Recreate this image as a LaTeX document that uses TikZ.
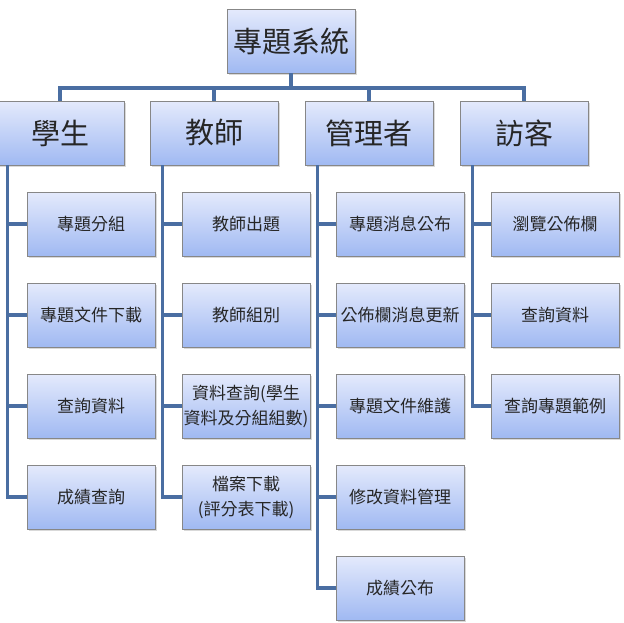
\documentclass[tikz,border=0pt]{standalone}
\usepackage{fontspec}
\newfontfamily\cjk{Noto Sans CJK TC}
\usetikzlibrary{positioning, shadows}

\definecolor{boxtop}{RGB}{228,234,252}
\definecolor{boxbot}{RGB}{160,185,242}
\definecolor{boxline}{RGB}{135,135,135}
\definecolor{branch}{RGB}{74,110,162}

\begin{document}
\begin{tikzpicture}[x=1pt, y=-1pt,
  box/.style={draw=boxline, line width=0.8pt, top color=boxtop, bottom color=boxbot,
    minimum width=128pt, minimum height=64pt, inner sep=0pt, align=center,
    text=black!85, drop shadow={opacity=0.3, shadow xshift=1.5pt, shadow yshift=-1.5pt}},
  big/.style={box, font=\cjk\fontsize{29}{34}\selectfont},
  small/.style={box, font=\cjk\fontsize{17}{25}\selectfont},
  link/.style={draw=branch, line width=3.2pt}]

\useasboundingbox (0,0) rectangle (624,622);

% Root
\node[big] (root) at (291,41) {專題系統};

% Roles
\node[big] (stu) at (60,133) {學生};
\node[big] (tea) at (214,133) {教師};
\node[big] (adm) at (369,133) {管理者};
\node[big] (vis) at (524,133) {訪客};

% Root to roles
\coordinate (bar) at (291,88);
\draw[link] (root.south) -- (bar);
\draw[link] (bar) -| (stu.north);
\draw[link] (bar) -| (tea.north);
\draw[link] (bar) -| (adm.north);
\draw[link] (bar) -| (vis.north);

% Student tasks
\node[small] (s1) at (91,224) {專題分組};
\node[small] (s2) at (91,315) {專題文件下載};
\node[small] (s3) at (91,406) {查詢資料};
\node[small] (s4) at (91,497) {成績查詢};

% Teacher tasks
\node[small] (t1) at (246,224) {教師出題};
\node[small] (t2) at (246,315) {教師組別};
\node[small] (t3) at (246,406) {資料查詢(學生\\資料及分組組數)};
\node[small] (t4) at (246,497) {檔案下載\\(評分表下載)};

% Admin tasks
\node[small] (a1) at (400,224) {專題消息公布};
\node[small] (a2) at (400,315) {公佈欄消息更新};
\node[small] (a3) at (400,406) {專題文件維護};
\node[small] (a4) at (400,497) {修改資料管理};
\node[small] (a5) at (400,588) {成績公布};

% Visitor tasks
\node[small] (v1) at (555,224) {瀏覽公佈欄};
\node[small] (v2) at (555,315) {查詢資料};
\node[small] (v3) at (555,406) {查詢專題範例};

% Branches
\draw[link] ([xshift=12pt]stu.south west) |- (s1.west);
\draw[link] ([xshift=12pt]stu.south west) |- (s2.west);
\draw[link] ([xshift=12pt]stu.south west) |- (s3.west);
\draw[link] ([xshift=12pt]stu.south west) |- (s4.west);

\draw[link] ([xshift=13pt]tea.south west) |- (t1.west);
\draw[link] ([xshift=13pt]tea.south west) |- (t2.west);
\draw[link] ([xshift=13pt]tea.south west) |- (t3.west);
\draw[link] ([xshift=13pt]tea.south west) |- (t4.west);

\draw[link] ([xshift=13pt]adm.south west) |- (a1.west);
\draw[link] ([xshift=13pt]adm.south west) |- (a2.west);
\draw[link] ([xshift=13pt]adm.south west) |- (a3.west);
\draw[link] ([xshift=13pt]adm.south west) |- (a4.west);
\draw[link] ([xshift=13pt]adm.south west) |- (a5.west);

\draw[link] ([xshift=13pt]vis.south west) |- (v1.west);
\draw[link] ([xshift=13pt]vis.south west) |- (v2.west);
\draw[link] ([xshift=13pt]vis.south west) |- (v3.west);

\end{tikzpicture}
\end{document}
